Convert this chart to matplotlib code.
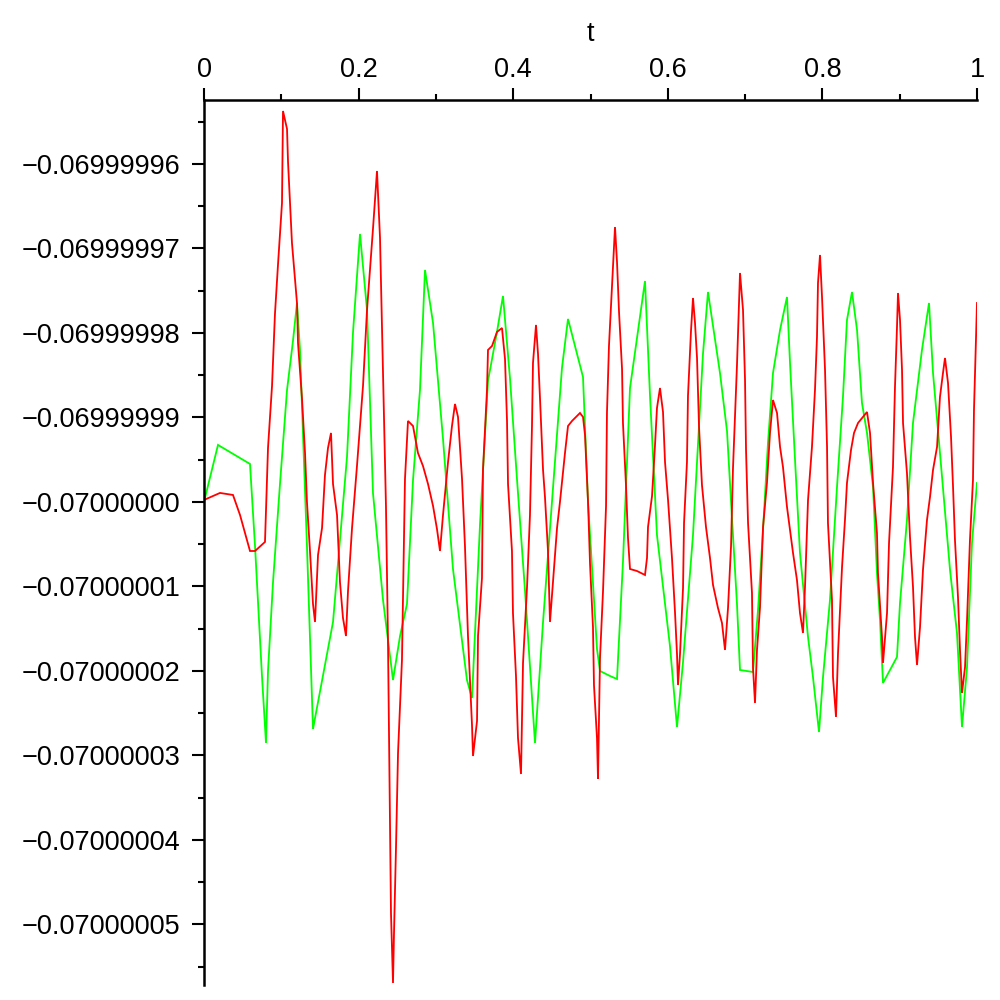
import matplotlib
matplotlib.use("Agg")
import matplotlib.pyplot as plt
from matplotlib.ticker import FixedLocator, FuncFormatter

# values are -0.07 + y * 1e-8
base = -0.07
scale = 1e-8

green_t = [0.0, .0181, .0595, .0660, .0750, .0802, .0828, .0893, .0983, .1074, .1151, .1203,
           .1242, .1332, .1410, .1669, .1850, .1928, .2018, .2109, .2186, .2316, .2445, .2536,
           .2626, .2704, .2794, .2859, .2963, .3092, .3221, .3402, .3467, .3571, .3674, .3790,
           .3868, .3959, .4049, .4153, .4282, .4386, .4515, .4631, .4709, .4903, .4968, .5084,
           .5123, .5252, .5343, .5420, .5511, .5705, .5770, .5860, .6028, .6119, .6197, .6326,
           .6455, .6520, .6675, .6766, .6831, .6895, .6934, .7102, .7167, .7232, .7296, .7361,
           .7452, .7542, .7581, .7646, .7710, .7814, .7878, .7956, .8008, .8098, .8189, .8266,
           .8318, .8383, .8448, .8512, .8577, .8655, .8706, .8745, .8784, .8965, .9004, .9094,
           .9172, .9288, .9379, .9431, .9521, .9651, .9741, .9806, .9871, .9935, 1.0]
green_y = [0.0, .675, .450, -.521, -2.059, -2.852, -2.0, -.947, .213, 1.325, 1.905, 2.355,
           1.799, -.521, -2.686, -1.420, .533, 2.012, 3.172, 2.272, .107, -1.160, -2.107, -1.586,
           -1.207, .260, 1.325, 2.746, 2.118, .746, -.793, -2.107, -2.320, -.260, 1.432, 2.012,
           2.438, 1.456, .272, -1.053, -2.852, -1.420, .166, 1.586, 2.166, 1.479, 0.0, -1.740,
           -2.0, -2.059, -2.095, -.710, 1.349, 2.615, 1.254, -.391, -1.704, -2.663, -1.893, -.391,
           1.751, 2.485, 1.527, .840, -.201, -1.207, -1.988, -2.012, -1.278, -.331, .698, 1.527,
           2.036, 2.426, 1.645, .497, -.604, -1.598, -2.071, -2.722, -2.071, -1.160, .178, 1.243,
           2.154, 2.485, 2.036, 1.172, .817, .178, -.840, -1.396, -2.142, -1.834, -1.195, -.213,
           .935, 1.799, 2.355, 1.527, .580, -.805, -1.550, -2.663, -1.953, -.485, .225]

red_t = [0.0, .0207, .0375, .0466, .0595, .0660, .0789, .0828, .0880, .0918, .0957, .1009,
         .1022, .1074, .1087, .1138, .1203, .1216, .1268, .1307, .1332, .1371, .1410, .1436,
         .1475, .1527, .1565, .1604, .1643, .1669, .1721, .1759, .1798, .1837, .1863, .1915,
         .1979, .2018, .2057, .2109, .2147, .2186, .2238, .2277, .2316, .2354, .2380, .2419,
         .2445, .2458, .2484, .2510, .2561, .2600, .2639, .2704, .2768, .2833, .2898, .2963,
         .3014, .3053, .3092, .3157, .3208, .3247, .3286, .3338, .3376, .3415, .3467, .3480,
         .3532, .3545, .3596, .3609, .3661, .3674, .3726, .3790, .3855, .3894, .3920, .3933,
         .3984, .3997, .4036, .4062, .4101, .4127, .4179, .4217, .4243, .4256, .4295, .4321,
         .4347, .4386, .4411, .4450, .4476, .4515, .4567, .4605, .4670, .4709, .4761, .4864,
         .4903, .4929, .4968, .4994, .5032, .5045, .5084, .5097, .5123, .5162, .5201, .5213,
         .5239, .5317, .5343, .5369, .5408, .5420, .5459, .5485, .5511, .5602, .5705, .5731,
         .5744, .5796, .5834, .5860, .5899, .5938, .5964, .6003, .6054, .6093, .6119, .6132,
         .6158, .6197, .6210, .6248, .6261, .6300, .6326, .6352, .6378, .6404, .6442, .6494,
         .6546, .6585, .6649, .6701, .6740, .6779, .6818, .6843, .6895, .6934, .6973, .6999,
         .7012, .7038, .7089, .7102, .7128, .7154, .7193, .7232, .7283, .7322, .7361, .7413,
         .7452, .7490, .7542, .7581, .7620, .7671, .7710, .7749, .7775, .7814, .7865, .7904,
         .7930, .7943, .7969, .7995, .8034, .8060, .8072, .8124, .8137, .8176, .8202, .8254,
         .8292, .8318, .8370, .8409, .8461, .8525, .8577, .8616, .8655, .8706, .8719, .8771,
         .8784, .8836, .8862, .8913, .8939, .8965, .8978, .9004, .9030, .9043, .9094, .9133,
         .9172, .9198, .9224, .9263, .9301, .9353, .9392, .9431, .9483, .9521, .9560, .9586,
         .9625, .9664, .9690, .9715, .9754, .9780, .9806, .9845, .9871, .9909, .9948, .9961,
         .9987, 1.0]
red_y = [.024, .107, .083, -.154, -.580, -.580, -.473, .639, 1.373, 2.225, 2.805, 3.538,
         4.627, 4.414, 4.024, 3.065, 2.355, 1.882, 1.219, .580, 0.0, -.580, -1.207, -1.420,
         -.627, -.308, .320, .639, .817, .213, -.154, -.947, -1.373, -1.586, -1.053, -.308,
         .426, .899, 1.373, 2.272, 2.746, 3.231, 3.917, 3.124, 1.538, -.047, -1.633, -4.864,
         -5.692, -5.101, -4.083, -2.970, -1.870, .272, .959, .899, .580, .426, .213, -.047,
         -.320, -.580, -.154, .473, .899, 1.160, 1.006, .272, -.521, -1.586, -2.639, -3.006,
         -2.592, -1.586, -.899, .379, 1.325, 1.799, 1.846, 2.012, 2.059, 1.692, .959, .213,
         -.580, -1.314, -2.059, -2.793, -3.219, -1.905, -1.006, -.154, .899, 1.645, 2.095, 1.751,
         1.219, .379, .059, -.580, -1.420, -.947, -.308, 0.0, .580, .899, .959, 1.053,
         1.006, .793, 0.0, -.734, -1.479, -2.166, -2.793, -3.278, -1.846, -1.053, -.047, 1.053,
         1.846, 3.254, 2.840, 2.249, 1.574, .935, .201, -.426, -.793, -.817, -.864, -.663,
         -.296, .071, .663, 1.112, 1.349, 1.065, .473, .024, -.663, -1.302, -1.799, -2.166,
         -1.799, -1.018, -.249, .473, 1.254, 2.024, 2.414, 2.118, 1.704, .888, .201, -.296,
         -.663, -.982, -1.254, -1.432, -1.751, -1.254, -.521, .391, 1.621, 2.710, 2.272, 1.444,
         .615, -.249, -1.077, -1.953, -2.379, -1.751, -1.243, -.296, .225, .817, 1.207, 1.053,
         .651, .414, -.059, -.331, -.604, -.923, -1.314, -1.550, -1.006, .024, .651, 1.325,
         1.953, 2.592, 2.923, 2.426, 1.562, .651, -.249, -1.160, -2.071, -2.544, -1.787, -.769,
         -.213, .225, .615, .817, .935, 1.006, 1.065, .817, .225, -.367, -.840, -1.598,
         -1.905, -1.314, -.485, .414, 1.361, 2.071, 2.473, 2.154, 1.562, .935, .343, -.414,
         -1.006, -1.598, -1.929, -1.479, -.805, -.213, .059, .379, .651, 1.243, 1.527, 1.704,
         1.408, .769, .178, -.450, -1.124, -1.751, -2.260, -1.953, -1.396, -.450, .260, 1.089,
         1.917, 2.355]

x_major = [0, 0.2, 0.4, 0.6, 0.8, 1]
x_minor = [0.1, 0.3, 0.5, 0.7, 0.9]
y_major = [-5, -4, -3, -2, -1, 0, 1, 2, 3, 4]
y_minor = [-5.5, -4.5, -3.5, -2.5, -1.5, -0.5, 0.5, 1.5, 2.5, 3.5, 4.5]

plt.rcParams['font.family'] = ['Liberation Sans', 'DejaVu Sans']

fig = plt.figure(figsize=(10, 10), dpi=100)
ax = fig.add_axes([0.204, 0.015, 0.773, 0.885])

ax.plot(green_t, green_y, color='#00ff00', lw=1.3, solid_joinstyle='miter')
ax.plot(red_t, red_y, color='#ff0000', lw=1.3, solid_joinstyle='miter')

ax.set_xlim(0, 1)
ax.set_ylim(-5.716, 4.757)

for s in ['bottom', 'right']:
    ax.spines[s].set_visible(False)
for s in ['top', 'left']:
    ax.spines[s].set_linewidth(1.8)
    ax.spines[s].set_color('black')

ax.xaxis.set_ticks_position('top')
ax.xaxis.set_label_position('top')
ax.xaxis.set_major_locator(FixedLocator(x_major))
ax.xaxis.set_minor_locator(FixedLocator(x_minor))
ax.xaxis.set_major_formatter(FuncFormatter(lambda v, p: f"{v:g}"))
ax.yaxis.set_major_locator(FixedLocator(y_major))
ax.yaxis.set_minor_locator(FixedLocator(y_minor))


def yfmt(v, p):
    s = f"{base + v * scale:.8f}"
    return s.replace('-', '\u2212')


ax.yaxis.set_major_formatter(FuncFormatter(yfmt))
ax.tick_params(axis='both', which='major', direction='out', length=9, width=1.5,
               labelsize=19.5, colors='black')
ax.tick_params(axis='both', which='minor', direction='out', length=4.5, width=1.5)
ax.tick_params(axis='x', which='major', pad=3)
ax.tick_params(axis='y', which='major', pad=8)
ax.set_xlabel('t', fontsize=19.5, labelpad=12)

fig.savefig('out.png', dpi=100, facecolor='white')
